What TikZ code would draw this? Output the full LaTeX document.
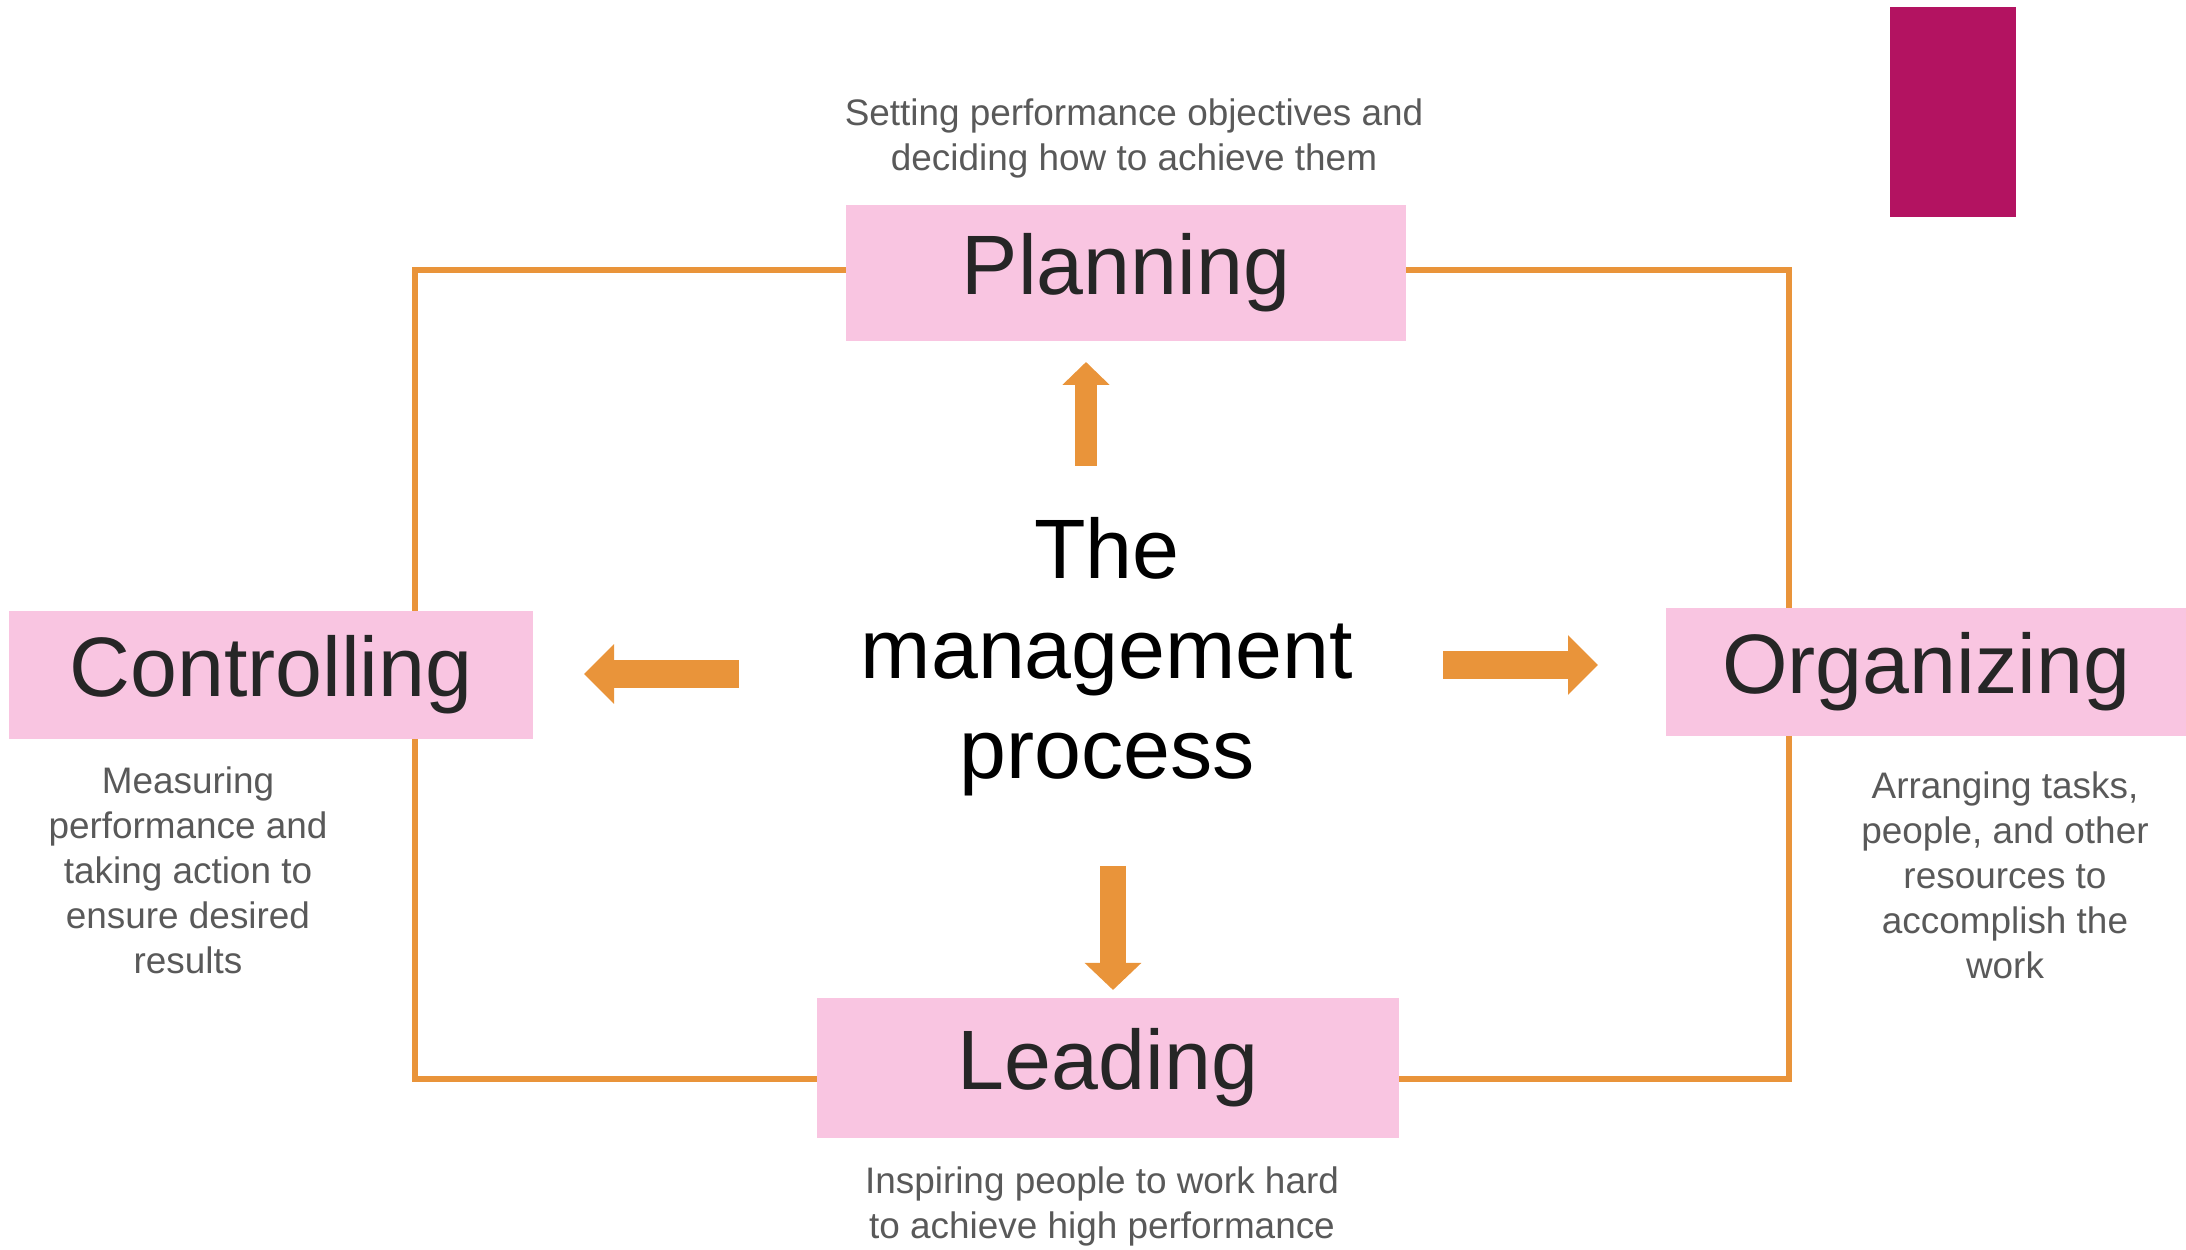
\documentclass[tikz,border=0pt]{standalone}
\usepackage{fontspec}
\setmainfont{Liberation Sans}
\usetikzlibrary{arrows.meta}
\definecolor{loopOrange}{RGB}{233,148,58}
\definecolor{boxPink}{RGB}{249,197,225}
\definecolor{barMagenta}{RGB}{179,19,97}
\definecolor{descGray}{RGB}{89,89,89}
\definecolor{boxText}{RGB}{38,38,38}
\tikzset{
  stagebox/.style={fill=boxPink,inner sep=0pt,text=boxText,font=\fontsize{24}{28}\selectfont},
  desc/.style={align=center,text=descGray,font=\fontsize{10.5}{12.8}\selectfont},
  loopline/.style={draw=loopOrange,line width=0.65mm},
  bigarrow/.style={draw=loopOrange,line width=2.8mm,-{Triangle[width=5.8mm,length=3mm]}}
}
\begin{document}
\begin{tikzpicture}[x=0.1mm,y=-0.1mm]
    \useasboundingbox (0,0) rectangle (2186,1250);

    \coordinate (loopNW) at (415,270);
    \coordinate (loopSE) at (1789,1079);
    \draw[loopline] (loopNW) rectangle (loopSE);

    \fill[barMagenta] (1890,7) rectangle (2016,217);

    \node[stagebox,minimum width=56mm,minimum height=13.6mm] (plan) at (1126,273) {Planning};
    \node[stagebox,minimum width=52.4mm,minimum height=12.8mm] (ctrl) at (271,675) {Controlling};
    \node[stagebox,minimum width=52mm,minimum height=12.8mm] (org) at (1926,672) {Organizing};
    \node[stagebox,minimum width=58.2mm,minimum height=14mm] (lead) at (1108,1068) {Leading};

    \node[desc] (planDesc) at (1134,138) {Setting performance objectives and\\deciding how to achieve them};
    \node[desc] (ctrlDesc) at (188,870) {Measuring\\performance and\\taking action to\\ensure desired\\results};
    \node[desc] (orgDesc) at (2005,875) {Arranging tasks,\\people, and other\\resources to\\accomplish the\\work};
    \node[desc] (leadDesc) at (1102,1206) {Inspiring people to work hard\\to achieve high performance};

    \node[align=center,font=\fontsize{24}{28.5}\selectfont] (proc) at (1107,657) {The\\management\\process};

    \coordinate (upTail) at (1086,466);   \coordinate (upTip) at (1086,362);
    \coordinate (leftTail) at (739,674);  \coordinate (leftTip) at (584,674);
    \coordinate (rightTail) at (1443,665); \coordinate (rightTip) at (1598,665);
    \coordinate (downTail) at (1113,866); \coordinate (downTip) at (1113,990);

    \draw[bigarrow,line width=2.2mm,-{Triangle[width=4.6mm,length=2.3mm]}] (upTail) -- (upTip);
    \draw[bigarrow] (leftTail) -- (leftTip);
    \draw[bigarrow] (rightTail) -- (rightTip);
    \draw[bigarrow,line width=2.6mm,-{Triangle[width=5.5mm,length=2.7mm]}] (downTail) -- (downTip);
  \end{tikzpicture}
\end{document}
